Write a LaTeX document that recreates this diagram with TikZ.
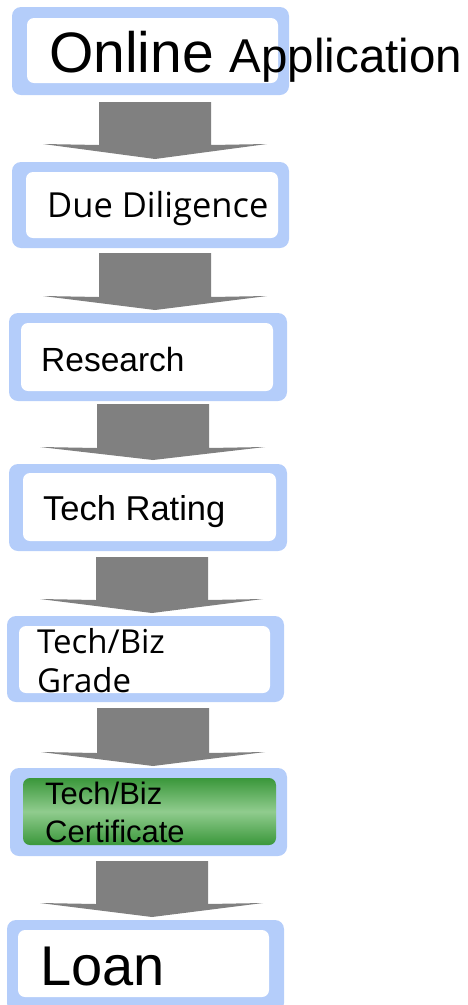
\documentclass[tikz,border=0pt]{standalone}
\usepackage{fontspec}
\setmainfont{Liberation Sans}
\newfontfamily\osfont{Open Sans}
\definecolor{frameblue}{HTML}{B4CDFA}
\definecolor{arrowgray}{HTML}{808080}
\definecolor{gdark}{HTML}{3A973A}
\definecolor{glight}{HTML}{90CC8E}
\tikzset{
  outerbox/.style={fill=frameblue, rounded corners=9pt},
  innerbox/.style={fill=white, rounded corners=7pt},
  greenbox/.style={top color=gdark, bottom color=gdark, middle color=glight, rounded corners=7pt},
  flowarrow/.style={fill=arrowgray, draw=none},
  lbl/.style={anchor=base west, inner sep=0pt, text=black, align=left},
}
\begin{document}
\begin{tikzpicture}[x=1pt,y=-1pt]
\useasboundingbox (0,0) rectangle (468,1005);
\clip (0,0) rectangle (468,1005);
% boxes
\fill[outerbox] (12,7) rectangle (289,95);
\fill[innerbox] (27,18) rectangle (278,83);
\fill[outerbox] (12,162) rectangle (289,248);
\fill[innerbox] (26,172) rectangle (278,238);
\fill[outerbox] (9,313) rectangle (287,401);
\fill[innerbox] (21,323) rectangle (273,391);
\fill[outerbox] (9,464) rectangle (287,551);
\fill[innerbox] (23,473) rectangle (276,541);
\fill[outerbox] (7,616) rectangle (284,702);
\fill[innerbox] (19,626) rectangle (270,693);
\fill[outerbox] (10,768) rectangle (287,856);
\shade[greenbox] (23,778) rectangle (276,845);
\fill[outerbox] (7,920) rectangle (284,1012);
\fill[innerbox] (18,930) rectangle (269,997);
% arrows
\fill[flowarrow] (99,102) -- (211,102) -- (211,145) -- (267,144) -- (155,159) -- (43,144) -- (99,145) -- cycle;
\fill[flowarrow] (99,253) -- (211,253) -- (211,297) -- (267,296) -- (155,310) -- (43,296) -- (99,297) -- cycle;
\fill[flowarrow] (97,404) -- (209,404) -- (209,448) -- (265,447) -- (153,460) -- (40,447) -- (97,448) -- cycle;
\fill[flowarrow] (96,557) -- (208,557) -- (208,600) -- (263,599) -- (152,613) -- (40,599) -- (96,600) -- cycle;
\fill[flowarrow] (97,708) -- (209,708) -- (209,753) -- (265,752) -- (153,766) -- (41,752) -- (97,753) -- cycle;
\fill[flowarrow] (96,861) -- (208,861) -- (208,904) -- (263,903) -- (152,917) -- (40,903) -- (96,904) -- cycle;
% labels
\node[lbl] (t1) at (49,72) {\fontsize{57}{57}\selectfont Online {\fontsize{47.5}{47.5}\selectfont Application}};
\node[lbl] (t2) at (47,217) {\osfont\fontsize{34.5}{34.5}\selectfont Due Diligence};
\node[lbl] (t3) at (41,371) {\fontsize{33.5}{33.5}\selectfont Research};
\node[lbl] (t4) at (43,520) {\fontsize{34.5}{34.5}\selectfont Tech Rating};
\node[lbl, font={\osfont\fontsize{33}{39}\selectfont}] (t5) at (37,692) {Tech/Biz\\Grade};
\node[lbl, font={\fontsize{31}{38}\selectfont}] (t6) at (45,842) {Tech/Biz\\Certificate};
\node[lbl] (t7) at (40,985) {\fontsize{56}{56}\selectfont Loan};
\end{tikzpicture}
\end{document}
